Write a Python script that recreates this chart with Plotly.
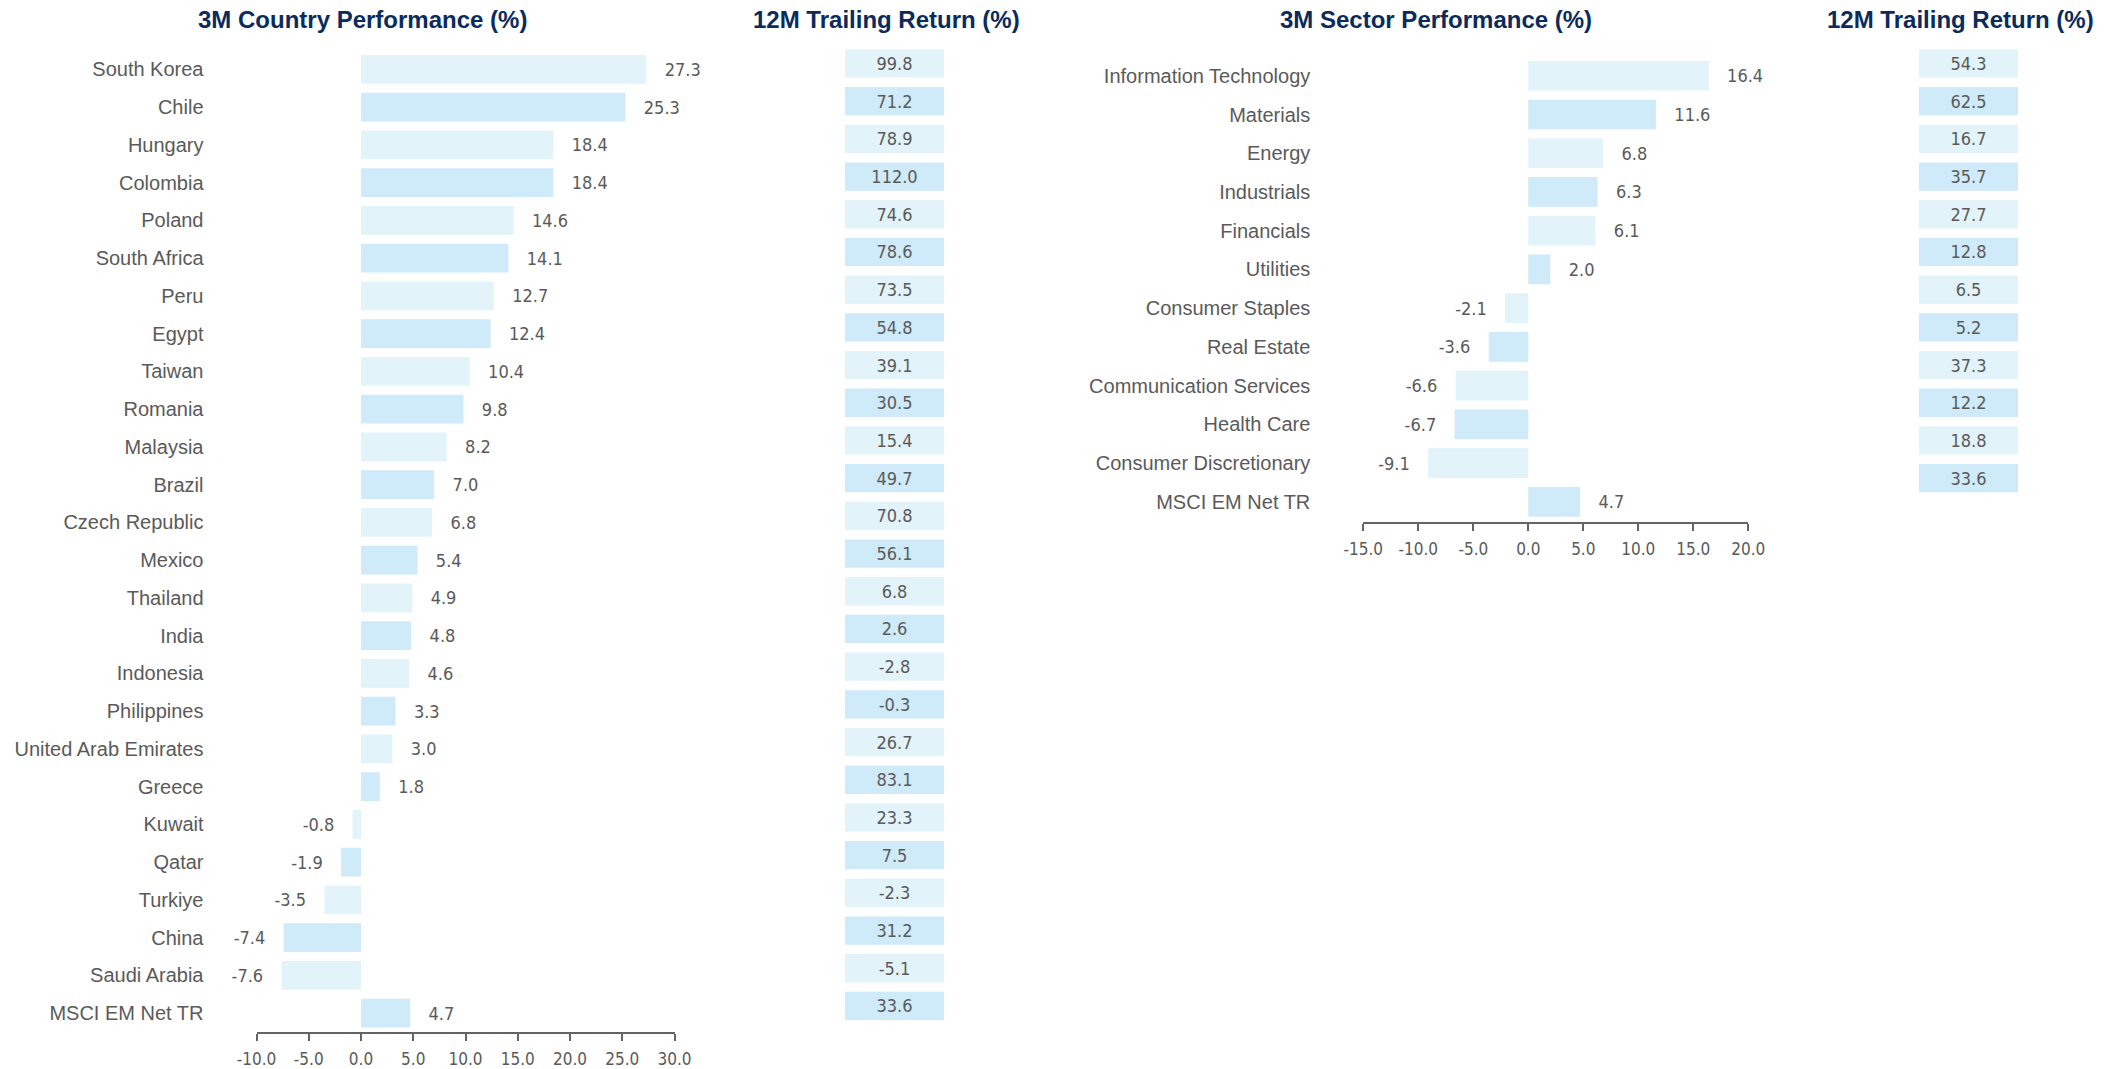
import plotly.graph_objects as go

W, H = 2118, 1069

# ---------------- data ----------------
countries = ["South Korea", "Chile", "Hungary", "Colombia", "Poland", "South Africa", "Peru",
             "Egypt", "Taiwan", "Romania", "Malaysia", "Brazil", "Czech Republic", "Mexico",
             "Thailand", "India", "Indonesia", "Philippines", "United Arab Emirates", "Greece",
             "Kuwait", "Qatar", "Turkiye", "China", "Saudi Arabia", "MSCI EM Net TR"]
country_3m = [27.3, 25.3, 18.4, 18.4, 14.6, 14.1, 12.7, 12.4, 10.4, 9.8, 8.2, 7.0, 6.8, 5.4,
              4.9, 4.8, 4.6, 3.3, 3.0, 1.8, -0.8, -1.9, -3.5, -7.4, -7.6, 4.7]
country_12m = [99.8, 71.2, 78.9, 112.0, 74.6, 78.6, 73.5, 54.8, 39.1, 30.5, 15.4, 49.7, 70.8,
               56.1, 6.8, 2.6, -2.8, -0.3, 26.7, 83.1, 23.3, 7.5, -2.3, 31.2, -5.1, 33.6]

sectors = ["Information Technology", "Materials", "Energy", "Industrials", "Financials",
           "Utilities", "Consumer Staples", "Real Estate", "Communication Services",
           "Health Care", "Consumer Discretionary", "MSCI EM Net TR"]
sector_3m = [16.4, 11.6, 6.8, 6.3, 6.1, 2.0, -2.1, -3.6, -6.6, -6.7, -9.1, 4.7]
sector_12m = [54.3, 62.5, 16.7, 35.7, 27.7, 12.8, 6.5, 5.2, 37.3, 12.2, 18.8, 33.6]

country_ticks = [-10, -5, 0, 5, 10, 15, 20, 25, 30]
sector_ticks = [-15, -10, -5, 0, 5, 10, 15, 20]

# ---------------- style ----------------
LIGHT = "#E2F3F9"
DARK = "#CFEAF8"
GRAY = "#5A5A5A"
NAVY = "#0B2B5C"
AXIS = "#646464"
LABEL_FONT = "Liberation Sans, Arial, sans-serif"
NUM_FONT = "Liberation Sans Narrow, Arial Narrow, DejaVu Sans Condensed, Liberation Sans, sans-serif"
TITLE_FONT = "Liberation Sans, Arial, sans-serif"
PAD = "\u00a0\u00a0\u00a0"


def alt_colors(n):
    return [LIGHT if i % 2 == 0 else DARK for i in range(n)]


def bar_text(vals):
    return [(PAD + f"{v:.1f}") if v >= 0 else (f"{v:.1f}" + PAD) for v in vals]


def px_x(a, b):
    return [a / W, b / W]


def px_y(top, bottom):
    return [1 - bottom / H, 1 - top / H]


fig = go.Figure()

# left: country bars
fig.add_trace(go.Bar(
    y=countries, x=country_3m, orientation="h", width=0.76,
    marker=dict(color=alt_colors(len(countries)), line=dict(width=0)),
    text=bar_text(country_3m), textposition="outside", cliponaxis=False,
    constraintext="none",
    textfont=dict(family=NUM_FONT, size=18, color=GRAY),
    xaxis="x", yaxis="y", hoverinfo="skip"))

# left: 12M table
fig.add_trace(go.Bar(
    y=countries, x=[1] * len(countries), orientation="h", width=0.75,
    marker=dict(color=alt_colors(len(countries)), line=dict(width=0)),
    text=[f"{v:.1f}" for v in country_12m], textposition="inside",
    insidetextanchor="middle", constraintext="none", textangle=0,
    textfont=dict(family=NUM_FONT, size=18, color=GRAY),
    xaxis="x2", yaxis="y2", hoverinfo="skip"))

# right: sector bars
fig.add_trace(go.Bar(
    y=sectors, x=sector_3m, orientation="h", width=0.767,
    marker=dict(color=alt_colors(len(sectors)), line=dict(width=0)),
    text=bar_text(sector_3m), textposition="outside", cliponaxis=False,
    constraintext="none",
    textfont=dict(family=NUM_FONT, size=18, color=GRAY),
    xaxis="x3", yaxis="y3", hoverinfo="skip"))

# right: 12M table
fig.add_trace(go.Bar(
    y=sectors, x=[1] * len(sectors), orientation="h", width=0.75,
    marker=dict(color=alt_colors(len(sectors)), line=dict(width=0)),
    text=[f"{v:.1f}" for v in sector_12m], textposition="inside",
    insidetextanchor="middle", constraintext="none", textangle=0,
    textfont=dict(family=NUM_FONT, size=18, color=GRAY),
    xaxis="x4", yaxis="y4", hoverinfo="skip"))

value_axis = dict(
    showgrid=False, zeroline=False, showline=True, linecolor=AXIS, linewidth=2,
    ticks="outside", ticklen=7, tickwidth=1.5, tickcolor=AXIS,
    ticklabelstandoff=4, tickangle=0, automargin=False,
    tickfont=dict(family=NUM_FONT, size=17, color=GRAY), fixedrange=True)

cat_axis = dict(
    type="category", showgrid=False, zeroline=False, showline=False, ticks="",
    tickfont=dict(family=LABEL_FONT, size=20, color=GRAY), ticklabelstandoff=52,
    automargin=False, fixedrange=True)

hidden_x = dict(range=[0, 1], visible=False, fixedrange=True, automargin=False)
hidden_y = dict(type="category", visible=False, fixedrange=True, automargin=False)

n_c = len(countries)
n_s = len(sectors)

fig.update_layout(
    width=W, height=H,
    margin=dict(l=0, r=0, t=0, b=0, autoexpand=False),
    paper_bgcolor="white", plot_bgcolor="white",
    showlegend=False, barmode="overlay",
    xaxis=dict(value_axis, domain=px_x(256.5, 674.5), range=[-10, 30],
               tickvals=country_ticks, ticktext=[f"{t:.1f}" for t in country_ticks],
               anchor="y"),
    yaxis=dict(cat_axis, domain=px_y(50.4, 1031.7), range=[n_c - 0.51, -0.5],
               categoryarray=countries, anchor="x"),
    xaxis2=dict(hidden_x, domain=px_x(845, 944), anchor="y2"),
    yaxis2=dict(hidden_y, domain=px_y(44.6, 1024.8), range=[n_c - 0.5, -0.5],
                categoryarray=countries, anchor="x2"),
    xaxis3=dict(value_axis, domain=px_x(1363.3, 1748.3), range=[-15, 20],
                tickvals=sector_ticks, ticktext=[f"{t:.1f}" for t in sector_ticks],
                anchor="y3"),
    yaxis3=dict(cat_axis, domain=px_y(56.4, 521.7), range=[n_s - 0.487, -0.5],
                categoryarray=sectors, anchor="x3"),
    xaxis4=dict(hidden_x, domain=px_x(1919, 2018), anchor="y4"),
    yaxis4=dict(hidden_y, domain=px_y(44.6, 497.0), range=[n_s - 0.5, -0.5],
                categoryarray=sectors, anchor="x4"),
)

titles = [("3M Country Performance (%)", 362),
          ("12M Trailing Return (%)", 886),
          ("3M Sector Performance (%)", 1436),
          ("12M Trailing Return (%)", 1960)]
for txt, cx in titles:
    fig.add_annotation(text=f"<b>{txt}</b>", x=cx / W, y=1 - 20 / H, xref="paper",
                       yref="paper", xanchor="center", yanchor="middle", showarrow=False,
                       font=dict(family=TITLE_FONT, size=24, color=NAVY))

fig.write_html(
    "out.html",
    config={"displayModeBar": False},
    post_script="document.body.style.margin='0';document.body.style.overflow='hidden';",
)
